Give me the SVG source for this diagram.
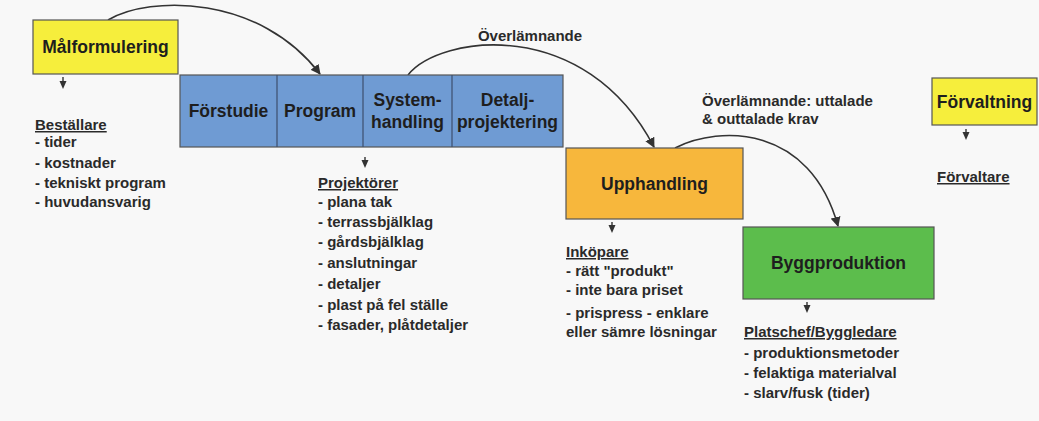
<svg xmlns="http://www.w3.org/2000/svg" width="1039" height="421" viewBox="0 0 1039 421">
<defs>
<style>
.box{stroke:#555;stroke-width:1.2}
.lbl{font-family:"Liberation Sans",Arial,sans-serif;font-weight:bold;font-size:17.5px;fill:#1e1e1e;text-anchor:middle}
.txt{font-family:"Liberation Sans",Arial,sans-serif;font-weight:bold;font-size:15px;fill:#2a2a2a}
.hd{text-decoration:underline}
.conn{fill:none;stroke:#333;stroke-width:1.6}
.tri{fill:#333}
.stem{stroke:#333;stroke-width:1.4}
</style>
<marker id="ah" viewBox="0 0 10 10" refX="9" refY="5" markerWidth="10" markerHeight="10" markerUnits="userSpaceOnUse" orient="auto">
<path d="M0,0 L10,5 L0,10 z" fill="#333"/>
</marker>
</defs>
<rect width="1039" height="421" fill="#f8f8f8"/>

<g id="connectors">
<path class="conn" d="M108,20 C150,-5 260,-5 320,74" marker-end="url(#ah)"/>
<path class="conn" d="M408,75 C440,35 585,15 654,147" marker-end="url(#ah)"/>
<path class="conn" d="M675,148 C720,125 810,125 838,226" marker-end="url(#ah)"/>
<text class="txt" x="530" y="41" text-anchor="middle">Överlämnande</text>
<text class="txt" x="702" y="106">Överlämnande: uttalade</text>
<text class="txt" x="702" y="124">&amp; outtalade krav</text>
<g id="down-arrows">
<path class="tri" d="M59.5,81 L66.5,81 L63,89 z"/><line class="stem" x1="63" y1="77" x2="63" y2="82"/>
<path class="tri" d="M361.5,160 L368.5,160 L365,168 z"/><line class="stem" x1="365" y1="157" x2="365" y2="161"/>
<path class="tri" d="M608.5,225 L615.5,225 L612,233 z"/><line class="stem" x1="612" y1="222" x2="612" y2="226"/>
<path class="tri" d="M803.5,305 L810.5,305 L807,313 z"/><line class="stem" x1="807" y1="302" x2="807" y2="306"/>
<path class="tri" d="M962.5,132 L969.5,132 L966,140 z"/><line class="stem" x1="966" y1="129" x2="966" y2="133"/>
</g>
</g>

<g id="malformulering">
<rect class="box" x="33" y="20" width="145" height="54" fill="#f6ee3c"/>
<text class="lbl" x="105.5" y="53">Målformulering</text>
</g>

<g id="bestallare">
<text class="txt hd" x="35" y="130">Beställare</text>
<text class="txt" x="35" y="147">- tider</text>
<text class="txt" x="35" y="168">- kostnader</text>
<text class="txt" x="35" y="188">- tekniskt program</text>
<text class="txt" x="35" y="207">- huvudansvarig</text>
</g>

<g id="projektering">
<rect class="box" x="180" y="75" width="383" height="72" fill="#6f9bd3"/>
<line x1="277" y1="75" x2="277" y2="147" stroke="#3d4f6e" stroke-width="1.2"/>
<line x1="363" y1="75" x2="363" y2="147" stroke="#3d4f6e" stroke-width="1.2"/>
<line x1="452" y1="75" x2="452" y2="147" stroke="#3d4f6e" stroke-width="1.2"/>
<text class="lbl" x="228.5" y="117">Förstudie</text>
<text class="lbl" x="320" y="117">Program</text>
<text class="lbl" x="407.5" y="106">System-</text>
<text class="lbl" x="407.5" y="128">handling</text>
<text class="lbl" x="507.5" y="106">Detalj-</text>
<text class="lbl" x="507.5" y="128">projektering</text>
</g>

<g id="projektorer">
<text class="txt hd" x="318" y="188">Projektörer</text>
<text class="txt" x="318" y="207">- plana tak</text>
<text class="txt" x="318" y="227">- terrassbjälklag</text>
<text class="txt" x="318" y="247">- gårdsbjälklag</text>
<text class="txt" x="318" y="268">- anslutningar</text>
<text class="txt" x="318" y="289">- detaljer</text>
<text class="txt" x="318" y="310">- plast på fel ställe</text>
<text class="txt" x="318" y="330">- fasader, plåtdetaljer</text>
</g>

<g id="upphandling">
<rect class="box" x="566" y="148" width="177" height="71" fill="#f7b73c"/>
<text class="lbl" x="654.5" y="190">Upphandling</text>
</g>

<g id="inkopare">
<text class="txt hd" x="566" y="257">Inköpare</text>
<text class="txt" x="566" y="276">- rätt "produkt"</text>
<text class="txt" x="566" y="295">- inte bara priset</text>
<text class="txt" x="566" y="318">- prispress - enklare</text>
<text class="txt" x="566" y="337">eller sämre lösningar</text>
</g>

<g id="byggproduktion">
<rect class="box" x="743" y="227" width="191" height="72" fill="#5cbd4c"/>
<text class="lbl" x="838.5" y="269">Byggproduktion</text>
</g>

<g id="platschef">
<text class="txt hd" x="744" y="337">Platschef/Byggledare</text>
<text class="txt" x="744" y="358">- produktionsmetoder</text>
<text class="txt" x="744" y="378">- felaktiga materialval</text>
<text class="txt" x="744" y="398">- slarv/fusk (tider)</text>
</g>

<g id="forvaltning">
<rect class="box" x="932" y="78" width="105" height="47" fill="#f6ee3c"/>
<text class="lbl" x="984.5" y="108">Förvaltning</text>
</g>

<g id="forvaltare">
<text class="txt hd" x="937" y="182">Förvaltare</text>
</g>
</svg>
